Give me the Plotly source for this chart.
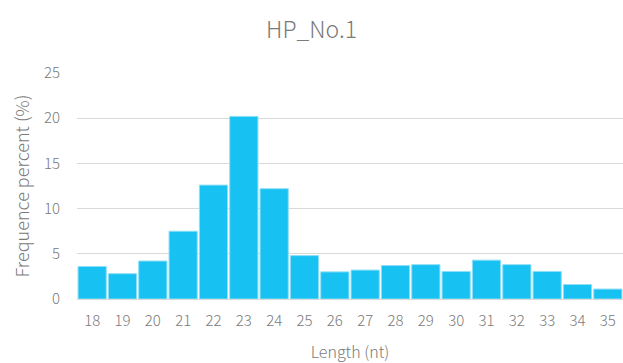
import plotly.graph_objects as go

# Read length distribution (nt) and share of reads (%)
lengths = ["18", "19", "20", "21", "22", "23", "24", "25", "26",
           "27", "28", "29", "30", "31", "32", "33", "34", "35"]
frequency = [3.6, 2.8, 4.2, 7.5, 12.6, 20.2, 12.2, 4.8, 3.0,
             3.2, 3.7, 3.8, 3.05, 4.3, 3.8, 3.05, 1.6, 1.1]

FONT = "Noto Sans CJK JP"
TEXT = "#7a7a7a"
GRID = "#d9d9d9"


def font(size):
    return dict(family=FONT, size=size, color=TEXT, weight=300)


fig = go.Figure(
    go.Bar(
        x=lengths,
        y=frequency,
        marker=dict(color="#17c1f2", line=dict(color="#8fdef7", width=1)),
        hoverinfo="x+y",
    )
)

fig.update_layout(
    width=623,
    height=363,
    margin=dict(l=77, r=0, t=73, b=64),
    paper_bgcolor="white",
    plot_bgcolor="white",
    bargap=0.07,
    showlegend=False,
    font=dict(family=FONT, color=TEXT),
    title=dict(
        text="HP_No.1",
        x=0.5,
        xanchor="center",
        y=1 - 30 / 363,
        yanchor="middle",
        font=font(23),
    ),
)

fig.update_xaxes(
    type="category",
    showgrid=False,
    showline=True,
    linecolor=GRID,
    linewidth=1,
    ticks="",
    ticklabelstandoff=8,
    tickfont=font(15),
    title=dict(text="Length (nt)", font=font(16), standoff=18),
)

fig.update_yaxes(
    range=[0, 25],
    dtick=5,
    showgrid=True,
    gridcolor=GRID,
    gridwidth=1,
    zeroline=False,
    showline=False,
    ticks="",
    ticklabelstandoff=16,
    tickfont=font(15),
    title=dict(text="Frequence percent (%)", font=font(18), standoff=9),
)

fig.write_html("out.html")
